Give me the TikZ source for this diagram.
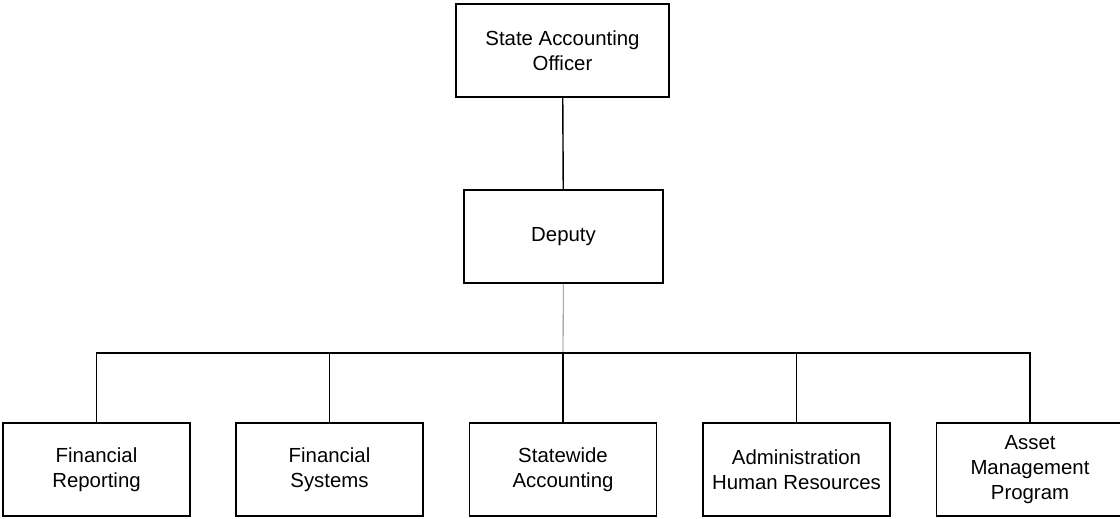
\documentclass[tikz,border=0pt]{standalone}
\usepackage{fontspec}
\setmainfont{Liberation Sans}
\usetikzlibrary{positioning,calc}

\tikzset{
    unit/.style={draw, line width=1pt, minimum width=4.675cm, minimum height=2.325cm, align=center, inner sep=0pt, font=\fontsize{14.5}{17.7}\selectfont},
    link/.style={line width=1pt}
}

\begin{document}
\begin{tikzpicture}[x=0.025cm, y=-0.025cm]
    \useasboundingbox (0, 0) rectangle (1120, 519);

    % Head
    \node [unit, minimum width=5.325cm] (sao) at (562.5, 50.5) {State Accounting\\Officer};
    \node [unit, minimum width=4.975cm] (dep) at (563.5, 236.5) {Deputy};

    % Divisions
    \node [unit] (fr) at (96.5, 469.5) {Financial\\Reporting};
    \node [unit] (fs) at (329.5, 469.5) {Financial\\Systems};
    \node [unit] (sa) at (563, 469.5) {Statewide\\Accounting};
    \node [unit] (ahr) at (796.5, 469.5) {Administration\\Human Resources};
    \node [unit] (amp) at (1030, 469.5) {Asset\\Management\\Program};

    % Lines
    \coordinate (bus) at (563, 353);
    \draw [link] (sao) -- (dep);
    \draw [gray, line width=0.6pt] (dep) -- (bus);
    \draw [link] (fr.north) |- (bus) -| (amp.north);
    \foreach \n in {fs, sa, ahr}
        \draw [link] (\n.north) -- (\n.north |- bus);
\end{tikzpicture}
\end{document}
